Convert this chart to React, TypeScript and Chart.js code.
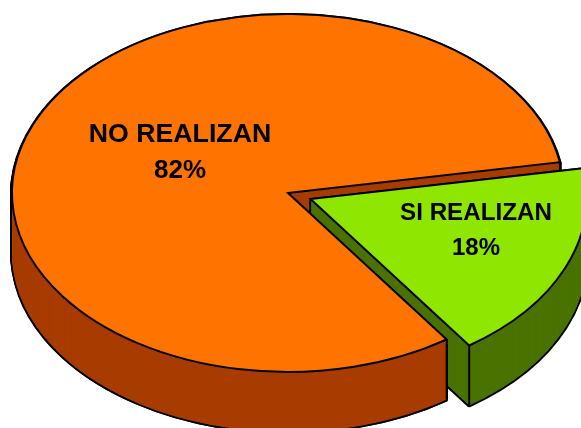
import React, { useEffect, useRef } from "react";
import { Chart, registerables } from "chart.js";

Chart.register(...registerables);

const categories = ["NO REALIZAN", "SI REALIZAN"];
const percentages = [82, 18];
const topColors = ["#FF7300", "#8FE600"];
const wallColors = ["#A83C00", "#4A7300"];
const sliceOffsets = [0, 18];

const CENTER_X = 288;
const CENTER_Y = 193;
const RADIUS_X = 276;
const RADIUS_Y = 179;
const DEPTH = 60;
const labelLayout = [
  { x: 180, y: 142, y2: 178, size: 26.7, size2: 26 },
  { x: 476, y: 220, y2: 255, size: 24.2, size2: 24 },
];

const pie3d = {
  id: "pie3d",
  beforeDatasetsDraw(chart: any) {
    const ctx = chart.ctx;
    const arcs = chart.getDatasetMeta(0).data as any[];
    const r = arcs[0].outerRadius;
    const sx = RADIUS_X / r;
    const sy = RADIUS_Y / r;

    const offsetOf = (i: number) => {
      const a = arcs[i];
      const mid = a.startAngle + a.circumference / 2;
      return { x: Math.cos(mid) * sliceOffsets[i], y: Math.sin(mid) * sliceOffsets[i] };
    };
    const corner = (i: number, angle: number) => {
      const o = offsetOf(i);
      return {
        x: CENTER_X + (o.x + Math.cos(angle) * r) * sx,
        y: CENTER_Y + (o.y + Math.sin(angle) * r) * sy,
      };
    };
    const paint = (
      i: number,
      drop: number,
      fill: string,
      stroke: string,
      lw: number,
      join: string
    ) => {
      const a = arcs[i];
      const saved = a.options;
      a.options = {
        backgroundColor: fill,
        borderColor: stroke,
        borderWidth: lw,
        borderAlign: "center",
        borderJoinStyle: join,
        borderRadius: 0,
        borderDash: [],
        borderDashOffset: 0,
        circular: true,
        offset: 0,
        spacing: 0,
      };
      const o = offsetOf(i);
      const nativeStroke = ctx.stroke;
      // keep the outline an even width although the pie is squashed into an ellipse
      ctx.stroke = function () {
        ctx.save();
        ctx.setTransform(1, 0, 0, 1, 0, 0);
        nativeStroke.call(ctx);
        ctx.restore();
      };
      ctx.save();
      ctx.translate(CENTER_X, CENTER_Y + drop);
      ctx.scale(sx, sy);
      ctx.translate(o.x - a.x, o.y - a.y);
      a.draw(ctx);
      ctx.restore();
      delete ctx.stroke;
      a.options = saved;
    };
    const walls = (i: number) => {
      for (let d = DEPTH; d >= 1; d -= 1) paint(i, d, "#000000", "#000000", 3.8, "bevel");
      for (let d = DEPTH; d >= 1; d -= 1) paint(i, d, wallColors[i], wallColors[i], 0, "bevel");
    };
    const vertical = (p: { x: number; y: number }) => {
      ctx.save();
      ctx.strokeStyle = "#000000";
      ctx.lineWidth = 2;
      ctx.beginPath();
      ctx.moveTo(p.x, p.y);
      ctx.lineTo(p.x, p.y + DEPTH);
      ctx.stroke();
      ctx.restore();
    };

    const noUpper = corner(0, arcs[0].endAngle);
    const noLower = corner(0, arcs[0].startAngle);
    const siLower = corner(1, arcs[1].endAngle);

    walls(0);
    vertical(noUpper);
    walls(1);
    vertical(siLower);

    ctx.save();
    ctx.beginPath();
    ctx.rect(0, noLower.y, noLower.x + 1, 428 - noLower.y);
    ctx.clip();
    walls(0);
    ctx.restore();
    vertical(noLower);

    paint(0, 0, topColors[0], "#000000", 2, "miter");
    paint(1, 0, topColors[1], "#000000", 2, "miter");

    ctx.save();
    ctx.fillStyle = "#000000";
    ctx.textAlign = "center";
    ctx.textBaseline = "alphabetic";
    categories.forEach((name, i) => {
      const l = labelLayout[i];
      ctx.font = `bold ${l.size}px "Liberation Sans", Arial, sans-serif`;
      ctx.fillText(name, l.x, l.y);
      ctx.font = `bold ${l.size2}px "Liberation Sans", Arial, sans-serif`;
      ctx.fillText(`${percentages[i]}%`, l.x, l.y2);
    });
    ctx.restore();
    return false;
  },
};

export default function App() {
  const ref = useRef<HTMLCanvasElement>(null);
  useEffect(() => {
    document.body.style.margin = "0";
    document.body.style.background = "#ffffff";
    const chart = new Chart(ref.current as HTMLCanvasElement, {
      type: "pie",
      data: {
        labels: categories,
        datasets: [
          {
            data: percentages,
            backgroundColor: topColors,
            offset: sliceOffsets,
          },
        ],
      },
      options: {
        responsive: false,
        animation: false,
        rotation: 144.9,
        plugins: { legend: { display: false }, tooltip: { enabled: false } },
      },
      plugins: [pie3d],
    } as any);
    return () => chart.destroy();
  }, []);
  return <canvas ref={ref} width={581} height={428} style={{ display: "block" }} />;
}
